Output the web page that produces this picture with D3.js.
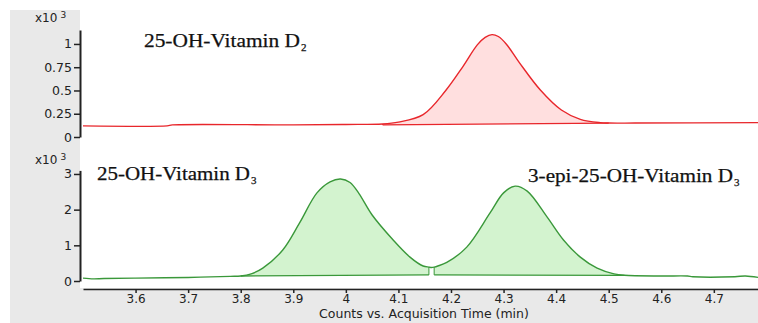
<!DOCTYPE html>
<html>
<head>
<meta charset="utf-8">
<script src="https://cdn.jsdelivr.net/npm/d3@7"></script>
<style>
  body { margin: 0; background: #fff; }
  .tick text { font-family: "DejaVu Sans", Verdana, sans-serif; font-size: 12px; fill: #222; }
  .y-axis .tick text { font-size: 12.5px; }
  .label { font-family: "Liberation Serif", "Times New Roman", serif; font-size: 19px; fill: #111; stroke: #111; stroke-width: 0.25px; }
</style>
</head>
<body>
<div id="chart"></div>
<script>
// Chromatogram traces (time in min, counts in x10^3)
var redTime   = [3.50, 3.66, 3.67, 3.90, 4.00, 4.07, 4.10, 4.147, 4.19, 4.223, 4.25, 4.265, 4.278, 4.29, 4.305, 4.33, 4.37, 4.41, 4.446, 4.484, 4.50, 4.55, 4.784];
var redCounts = [0.12, 0.12, 0.13, 0.13, 0.135, 0.14, 0.16, 0.24, 0.50, 0.76, 0.99, 1.07, 1.10, 1.08, 1.00, 0.80, 0.505, 0.29, 0.19, 0.154, 0.15, 0.15, 0.155];

var greenTime   = [3.50, 3.52, 3.54, 3.60, 3.70, 3.78, 3.80, 3.82, 3.842, 3.88, 3.912, 3.945, 3.97, 3.99, 4.008, 4.025, 4.05, 4.09, 4.122, 4.147, 4.158, 4.163, 4.168, 4.175, 4.192, 4.23, 4.274, 4.30, 4.322, 4.345, 4.383, 4.414, 4.446, 4.478, 4.51, 4.53, 4.60, 4.65, 4.66, 4.74, 4.76, 4.784];
var greenCounts = [0.08, 0.06, 0.07, 0.08, 0.10, 0.13, 0.14, 0.20, 0.36, 0.87, 1.63, 2.47, 2.78, 2.86, 2.76, 2.45, 1.85, 1.15, 0.67, 0.42, 0.39, 0.38, 0.39, 0.42, 0.52, 0.95, 1.90, 2.47, 2.66, 2.52, 1.79, 1.15, 0.67, 0.36, 0.20, 0.16, 0.14, 0.14, 0.12, 0.12, 0.14, 0.10];

// integrated peaks: start, end, baseline value at start and end
var redPeaks   = [[4.07, 4.50, 0.13, 0.15]];
var greenPeaks = [[3.80, 4.158, 0.14, 0.17], [4.168, 4.53, 0.17, 0.16]];

var xTicks = [3.6, 3.7, 3.8, 3.9, 4.0, 4.1, 4.2, 4.3, 4.4, 4.5, 4.6, 4.7];
var topTicks = [0, 0.25, 0.5, 0.75, 1];
var bottomTicks = [0, 1, 2, 3];

var svgWidth = 758;
var svgHeight = 323;

var svg = d3.select("#chart")
  .append("svg")
  .attr("width", svgWidth)
  .attr("height", svgHeight);

// grey frame and white plot area
svg.append("rect").attr("x", 10).attr("y", 10).attr("width", svgWidth - 10).attr("height", svgHeight - 10).attr("fill", "#e9e9e9");
svg.append("rect").attr("x", 80).attr("y", 10).attr("width", svgWidth - 80).attr("height", 278).attr("fill", "#fff");

var x = d3.scaleLinear().domain([3.5, 4.784]).range([83, 758]);
var yTop = d3.scaleLinear().domain([0, 1.15]).range([137, 30]);
var yBottom = d3.scaleLinear().domain([0, 3.1]).range([281, 170.4]);

var curve = d3.curveCatmullRom.alpha(0.5);

function drawPanel(yScale, ticks, times, counts, peaks, lineColor, fillColor) {
  var data = times.map((t, i) => ({ t: t, v: counts[i] }));

  peaks.forEach(function (p) {
    var base = d3.scaleLinear().domain([p[0], p[1]]).range([p[2], p[3]]);
    var seg = data.filter((d) => d.t >= p[0] && d.t <= p[1]);

    var area = d3.area()
      .x((d) => x(d.t))
      .y0((d) => yScale(base(d.t)))
      .y1((d) => yScale(d.v))
      .curve(curve);

    svg.append("path")
      .datum(seg)
      .attr("d", area)
      .attr("fill", fillColor);

    // integration baseline
    svg.append("line")
      .attr("x1", x(p[0])).attr("x2", x(p[1]))
      .attr("y1", yScale(p[2])).attr("y2", yScale(p[3]))
      .attr("stroke", lineColor)
      .attr("stroke-width", 1.3);

    // drop lines at the peak edges
    [seg[0], seg[seg.length - 1]].forEach(function (d) {
      svg.append("line")
        .attr("x1", x(d.t)).attr("x2", x(d.t))
        .attr("y1", yScale(base(d.t))).attr("y2", yScale(d.v))
        .attr("stroke", lineColor)
        .attr("stroke-width", 1);
    });
  });

  var line = d3.line()
    .x((d) => x(d.t))
    .y((d) => yScale(d.v))
    .curve(curve);

  svg.append("path")
    .datum(data)
    .attr("d", line)
    .attr("fill", "none")
    .attr("stroke", lineColor)
    .attr("stroke-width", 1.4);

  var axis = svg.append("g")
    .attr("class", "y-axis")
    .attr("transform", "translate(80,0)")
    .call(d3.axisLeft(yScale).tickValues(ticks).tickFormat(d3.format("")).tickSize(6).tickSizeOuter(0).tickPadding(2));
  axis.select(".domain").attr("stroke", "#222").attr("stroke-width", 2);
  axis.selectAll(".tick line").attr("stroke", "#222").attr("stroke-width", 1.5);
}

drawPanel(yTop, topTicks, redTime, redCounts, redPeaks, "#e8262b", "#ffdfdf");
drawPanel(yBottom, bottomTicks, greenTime, greenCounts, greenPeaks, "#3a983a", "#d3f3cf");

// x axis
var xAxis = svg.append("g")
  .attr("transform", "translate(0,289)")
  .call(d3.axisBottom(x).tickValues(xTicks).tickFormat(d3.format("")).tickSize(4).tickSizeOuter(0).tickPadding(1));
xAxis.select(".domain").attr("stroke", "#222").attr("stroke-width", 1.5);
xAxis.selectAll(".tick line").attr("stroke", "#222").attr("stroke-width", 1.5);

svg.append("text")
  .attr("x", 424)
  .attr("y", 318)
  .attr("text-anchor", "middle")
  .style("font-family", "DejaVu Sans, Verdana, sans-serif")
  .style("font-size", "12.5px")
  .style("fill", "#222")
  .text("Counts vs. Acquisition Time (min)");

// x10^3 multipliers
[22, 164].forEach(function (yPos) {
  var t = svg.append("text")
    .attr("x", 35)
    .attr("y", yPos)
    .style("font-family", "DejaVu Sans, Verdana, sans-serif")
    .style("font-size", "12px")
    .style("fill", "#222");
  t.append("tspan").text("x10");
  t.append("tspan").attr("dx", 3).attr("dy", -4).style("font-size", "9px").text("3");
});

// compound labels
var labels = [
  { x: 144, y: 47, w: 156, name: "25-OH-Vitamin D", sub: "2" },
  { x: 97, y: 180, w: 153, name: "25-OH-Vitamin D", sub: "3" },
  { x: 528, y: 182, w: 205, name: "3-epi-25-OH-Vitamin D", sub: "3" }
];

labels.forEach(function (l) {
  var t = svg.append("text")
    .attr("class", "label")
    .attr("x", l.x)
    .attr("y", l.y);
  t.append("tspan")
    .attr("textLength", l.w)
    .attr("lengthAdjust", "spacingAndGlyphs")
    .text(l.name);
  t.append("tspan").attr("dx", 1).attr("dy", 4).style("font-size", "11px").text(l.sub);
});
</script>
</body>
</html>
